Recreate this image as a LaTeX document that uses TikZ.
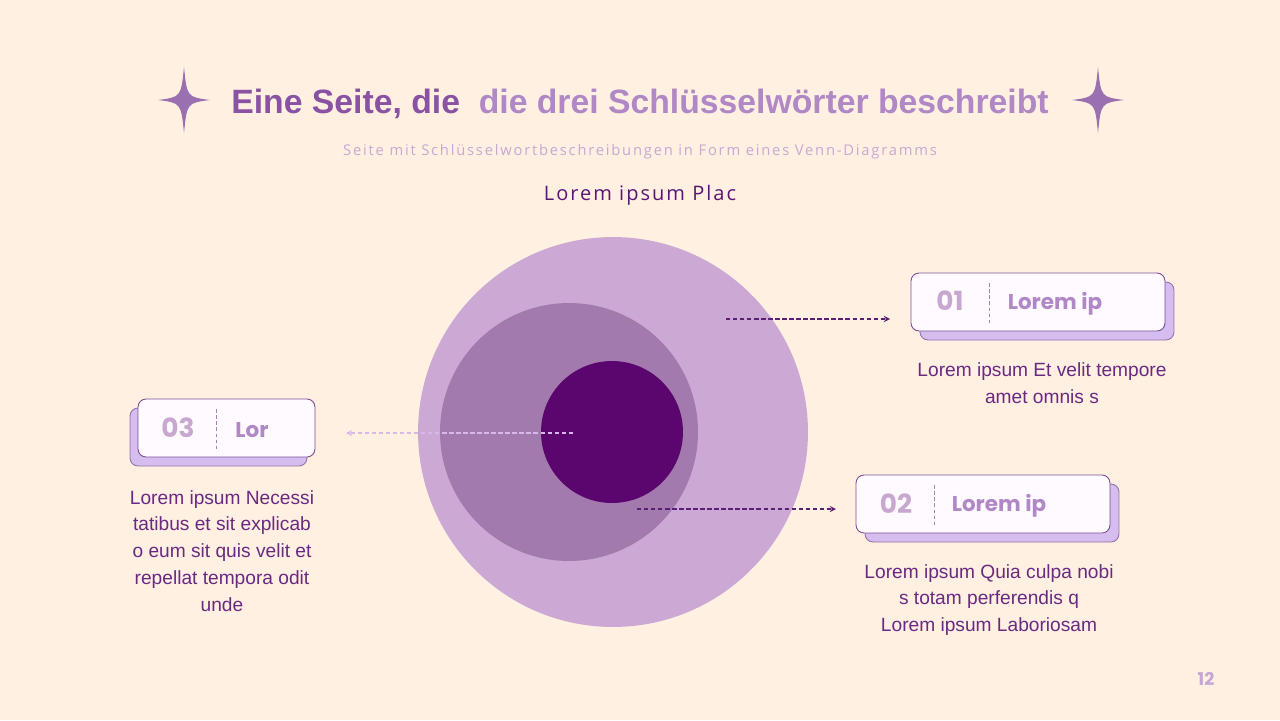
\documentclass[tikz,border=0pt]{standalone}
\usepackage{fontspec}
\setmainfont{Liberation Sans}
\newfontfamily\popfont{Poppins}
\newfontfamily\subfont[LetterSpace=12]{Open Sans}
\newfontfamily\placfont[LetterSpace=10]{Open Sans}
\usetikzlibrary{positioning,calc}
\definecolor{bgpeach}{HTML}{FFF0E2}
\definecolor{starpurple}{HTML}{9A70B0}
\definecolor{titledark}{HTML}{8A52A2}
\definecolor{titlelight}{HTML}{B088C6}
\definecolor{subgrey}{HTML}{C9A9D3}
\definecolor{plum}{HTML}{5A1672}
\definecolor{ringout}{HTML}{CBA9D4}
\definecolor{ringmid}{HTML}{A37AAE}
\definecolor{ringin}{HTML}{5B066F}
\definecolor{arrowdark}{HTML}{5A2075}
\definecolor{arrowlight}{HTML}{D8B8E8}
\definecolor{boxline}{HTML}{7C4E95}
\definecolor{boxfill}{HTML}{FFFAFF}
\definecolor{shadowfill}{HTML}{D5BDF0}
\definecolor{numgrey}{HTML}{C8A8D0}
\definecolor{labelpurple}{HTML}{B088C6}
\definecolor{bodytext}{HTML}{6A2A84}
\definecolor{pagenum}{HTML}{C6A6D8}

\begin{document}
\begin{tikzpicture}[x=0.02cm,y=-0.02cm,>=stealth,
  frontbox/.style = {draw=boxline, line width=0.5pt, fill=boxfill, rounded corners=0.16cm, minimum height=1.16cm, inner sep=0pt},
  shadowbox/.style = {draw=boxline!80, line width=0.5pt, fill=shadowfill, rounded corners=0.16cm, minimum height=1.16cm, inner sep=0pt},
  numtext/.style = {text=numgrey, font=\popfont\bfseries\fontsize{15}{18}\selectfont},
  labeltext/.style = {text=labelpurple, font=\popfont\bfseries\fontsize{12.2}{14}\selectfont},
  bodynote/.style = {text=bodytext, align=center, font=\fontsize{10.9}{15.3}\selectfont},
  divider/.style = {draw=boxline!70, dashed, dash pattern=on 2pt off 1.5pt, line width=0.4pt},
  linkdark/.style = {draw=arrowdark, dashed, dash pattern=on 2.5pt off 1.5pt, line width=0.6pt, ->},
  linklight/.style = {draw=arrowlight, dashed, dash pattern=on 2.5pt off 1.5pt, line width=0.6pt, ->},
]
%Background
\fill[bgpeach] (0,0) rectangle (1280,720);
\useasboundingbox (0,0) rectangle (1280,720);

%Stars
\foreach \cx in {184,1098}
  \fill[starpurple] (\cx,67) .. controls (\cx+3,97) .. (\cx+26,100) .. controls (\cx+3,103) .. (\cx,133)
    .. controls (\cx-3,103) .. (\cx-26,100) .. controls (\cx-3,97) .. cycle;

%Title and subtitle
\node (title) at (640,104) {\fontsize{19.2}{22}\selectfont\bfseries\textcolor{titledark}{Eine Seite, die}\ \ \textcolor{titlelight}{die drei Schlüsselwörter beschreibt}};
\node (subtitle) at (640,152) [text=subgrey, font=\subfont\fontsize{8.4}{10}\selectfont] {Seite mit Schlüsselwortbeschreibungen in Form eines Venn-Diagramms};
\node (plac) at (640,195) [text=plum, font=\placfont\fontsize{11.4}{13}\selectfont] {Lorem ipsum Plac};

%Drawing the circles
\fill[ringout] (613,432) circle[radius=3.9cm];
\fill[ringmid] (569,432) circle[radius=2.58cm];
\fill[ringin] (612,432) circle[radius=1.42cm];

%Boxes
\node (s1) at (1047,311)[shadowbox, minimum width=5.08cm] {};
\node (b1) at (1038,302)[frontbox, minimum width=5.08cm] {};
\node (s2) at (992,513)[shadowbox, minimum width=5.08cm] {};
\node (b2) at (983,504)[frontbox, minimum width=5.08cm] {};
\node (s3) at (218.5,437)[shadowbox, minimum width=3.54cm] {};
\node (b3) at (226.5,428)[frontbox, minimum width=3.54cm] {};

\node (n1) at (950,301)[numtext] {01};
\node (l1) at (1055,304)[labeltext] {Lorem ip};
\draw[divider] (989,283) -- (989,323);
\node (n2) at (896,504)[numtext] {02};
\node (l2) at (999,506)[labeltext] {Lorem ip};
\draw[divider] (934,485) -- (934,525);
\node (n3) at (178,428)[numtext] {03};
\node (l3) at (252,430)[labeltext] {Lor};
\draw[divider] (216,409) -- (216,449);

%Descriptions
\node (d1) at (1042,383)[bodynote] {Lorem ipsum Et velit tempore\\amet omnis s};
\node (d2) at (989,600)[bodynote] {Lorem ipsum Quia culpa nobi\\s totam perferendis q\\Lorem ipsum Laboriosam};
\node (d3) at (222,551)[bodynote] {Lorem ipsum Necessi\\tatibus et sit explicab\\o eum sit quis velit et\\repellat tempora odit\\unde};

%Connectors
\coordinate (a1) at (726,319);
\coordinate (e1) at (890,319);
\coordinate (a2) at (637,509);
\coordinate (e2) at (836,509);
\coordinate (a3) at (573,433);
\coordinate (e3) at (346,433);
\draw[linkdark] (a1) -- (e1);
\draw[linkdark] (a2) -- (e2);
\draw[linklight] (a3) -- (e3);

%Page number
\node (page) at (1206,679)[text=pagenum, font=\popfont\bfseries\fontsize{10}{12}\selectfont] {12};
\end{tikzpicture}
\end{document}
